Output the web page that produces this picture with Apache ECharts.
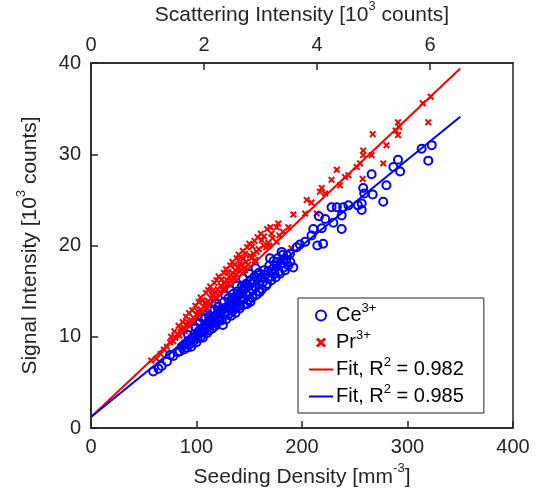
<!DOCTYPE html>
<html><head><meta charset="utf-8">
<script src="https://cdn.jsdelivr.net/npm/echarts@6/dist/echarts.min.js"></script>
<style>html,body{margin:0;padding:0;background:#fff}#c{width:542px;height:500px}</style>
</head><body><div id="c"></div>
<script>
// Seeding density [mm^-3], signal intensity [10^3 counts]
const ceData = [
[59,6.2],[64,6.5],[67,6.8],[72,7.3],[75,8.0],[78,7.9],[82,8.3],[84,8.4],[86,8.9],[88,9.1],[90,9.3],[91,8.8],[93,9.6],[94,9.2],[96,9.9],[97,9.5],[98,10.3],[100,10.1],[101,9.8],[102,10.6],[103,10.4],[104,10.0],[105,10.8],[106,11.0],[107,10.5],[108,11.3],[109,10.9],[110,11.5],[111,11.1],[112,10.7],[113,11.8],[114,11.4],[115,12.0],[116,11.6],[117,12.2],[118,11.2],[119,12.4],[120,12.0],[121,11.7],[122,12.6],[123,12.2],[124,12.9],[125,11.3],[126,12.5],[127,13.1],[128,12.7],[129,13.3],[130,12.4],[131,13.5],[132,13.0],[133,13.8],[134,12.8],[135,13.6],[136,14.1],[137,13.2],[138,14.3],[139,13.7],[140,14.5],[141,13.4],[142,14.8],[143,14.0],[144,15.0],[145,14.2],[146,15.3],[147,14.6],[148,13.6],[149,15.5],[150,14.9],[151,13.8],[152,15.8],[153,15.2],[155,16.0],[156,15.4],[158,16.3],[159,15.0],[160,14.9],[161,16.5],[163,16.0],[165,16.8],[166,15.6],[168,17.2],[170,16.6],[172,17.4],[174,16.9],[176,17.8],[178,17.1],[180,18.0],[183,17.6],[185,18.4],[187,17.8],
[88,8.6],[92,10.2],[95,8.9],[99,11.0],[100,9.4],[103,11.5],[106,9.9],[108,12.0],[110,10.4],[112,12.3],[115,10.9],[117,13.0],[119,11.5],[121,13.3],[124,11.8],[126,13.8],[128,11.9],[130,14.2],[133,12.3],[135,14.7],[137,12.6],[139,15.0],[141,13.1],[143,15.5],[145,13.5],[147,15.8],[149,14.0],[151,16.2],[153,14.3],[155,16.6],[157,14.6],[159,17.0],[162,15.2],[164,17.3],[167,15.8],[169,17.8],[171,16.2],[173,18.3],[175,16.5],[177,18.6],[179,16.9],[182,19.0],[184,17.3],[186,18.9],[189,18.2],[127,14.6],[132,15.1],[138,15.6],[144,16.4],[118,13.6],[150,16.9],[156,17.5],[113,12.9],[105,12.1],
[169.7,18.6],[176,18.2],[180.7,19.3],[188.6,19.1],[191.8,17.6],[195,19.8],[198,20.1],[203,20.4],[209,21.1],[210.7,21.8],[214.5,20.0],[220,20.2],[216,23.2],[218.7,21.9],[222,22.9],[228,24.2],[229.7,22.5],[233,24.2],[237.6,23.3],[237.6,21.8],[239,24.2],[244,24.4],[253,24.4],[256.6,24.6],[256.6,23.9],[258,26.3],[259,25.7],[266,27.8],[267,25.6],[277,24.8],[280,26.6],[286.6,28.6],[291,29.4],[293,28.1],[313.4,30.6],[319.7,29.3],[323,31.0]
];
const prData = [
[57,7.4],[62,7.6],[66,8.1],[69,8.6],[72,8.9],[75,9.4],[78,9.5],[80,9.9],[82,10.3],[84,10.1],[86,10.7],[88,11.0],[89,10.6],[91,11.3],[92,11.6],[94,11.2],[95,11.8],[97,12.1],[98,11.7],[100,12.4],[101,12.8],[103,12.3],[104,13.0],[105,12.7],[107,13.3],[108,13.7],[110,13.1],[111,13.9],[112,13.5],[114,14.2],[115,14.6],[116,13.9],[118,14.8],[119,14.3],[120,15.2],[122,14.9],[123,15.6],[125,15.1],[126,15.9],[127,15.4],[129,16.2],[130,15.8],[131,16.6],[133,16.1],[134,17.0],[135,16.5],[137,17.3],[138,16.8],[140,17.6],[141,17.2],[143,17.9],[145,17.5],[147,18.2],[149,17.9],[152,18.6],[154,19.1],[157,19.3],[159,19.6],[166,19.8],[168,20.3],[172,20.8],[182,21.5],
[76,10.0],[79,10.6],[83,11.2],[85,10.9],[87,11.6],[90,12.2],[93,12.6],[96,12.9],[99,13.4],[102,13.8],[104,14.3],[106,14.0],[109,14.8],[111,15.1],[113,15.5],[115,15.0],[117,15.9],[119,16.2],[121,16.6],[124,16.3],[126,17.0],[128,17.4],[130,17.1],[132,17.8],[134,18.2],[136,17.9],[138,18.6],[140,19.0],[142,18.7],[144,19.4],[146,19.1],[148,19.8],[150,20.2],[153,19.9],[155,20.5],[158,20.9],[161,21.3],[164,21.0],[167,21.8],[170,22.0],[96,11.5],[106,12.6],[116,14.0],[126,15.2],[136,16.4],[146,17.3],[156,18.3],
[141,18.0],[144.4,18.6],[150.7,18.9],[155.5,18.4],[161.8,20.6],[163.5,20.0],[169,20.0],[171,21.3],[176,22.0],[176,20.4],[177.5,22.4],[178.5,21.1],[187,22.0],[190,19.7],[191.8,23.4],[203,23.5],[204.5,25.0],[209,24.7],[214,23.5],[217,25.9],[218.7,26.3],[222,25.7],[228,27.2],[233,28.3],[236,26.6],[240.8,27.5],[244,27.7],[251.8,28.6],[255,29.0],[257.5,27.3],[258,30.4],[258,29.9],[266,29.9],[267,32.2],[277,29.0],[280,31.0],[288.8,32.6],[291,33.5],[291,32.1],[292,33.0],[314.4,35.6],[319.7,33.5],[322,36.3]
];
const fitPr = [[0,1.2],[350,39.4]];
const fitCe = [[0,1.2],[350,34.1]];
const bottomTicks = [0,100,200,300,400];
const topTicks = [0,2,4,6];
const leftTicks = [0,10,20,30,40];

const FONT = '"Liberation Sans", Arial, Helvetica, sans-serif';
const TXT = '#262626';
const sup = {fontSize: 13, verticalAlign: 'top', lineHeight: 13, fontFamily: FONT, color: TXT};
const chart = echarts.init(document.getElementById('c'), null, {renderer:'canvas'});
const xPath = 'path://M0,2L2,0L5,3L8,0L10,2L7,5L10,8L8,10L5,7L2,10L0,8L3,5Z';
const linePath = 'path://M0,0L0.01,0L0,0.01Z M0,4L24,4L24,6L0,6Z M24,10L23.99,10L24,9.99Z';
chart.setOption({
  animation:false,
  backgroundColor:'#fff',
  textStyle:{fontFamily:FONT},
  grid:{left:91,right:29,top:63,bottom:72,show:true,borderColor:TXT,borderWidth:1.5,containLabel:false,outerBoundsMode:'none'},
  xAxis:[{
    type:'value',min:0,max:400,interval:100,position:'bottom',
    name:'Seeding Density [mm{sup|-3}]',nameLocation:'middle',nameGap:29,
    nameTextStyle:{fontSize:21,lineHeight:30,color:TXT,fontFamily:FONT,rich:{sup}},
    axisLine:{show:true,onZero:false,lineStyle:{color:TXT,width:1.5}},
    axisTick:{show:true,inside:true,length:7,lineStyle:{color:TXT,width:1.5}},
    axisLabel:{fontSize:20,color:TXT,margin:9,fontFamily:FONT,formatter:v=>bottomTicks.includes(v)?String(v):''},
    splitLine:{show:false}
  },{
    type:'value',min:0,max:7.47,interval:2,position:'top',
    name:'Scattering Intensity [10{sup|3} counts]',nameLocation:'middle',nameGap:30,
    nameTextStyle:{fontSize:21,lineHeight:30,color:TXT,fontFamily:FONT,rich:{sup}},
    axisLine:{show:true,onZero:false,lineStyle:{color:TXT,width:1.5}},
    axisTick:{show:true,inside:true,length:7,lineStyle:{color:TXT,width:1.5}},
    axisLabel:{fontSize:20,color:TXT,margin:8,fontFamily:FONT,showMaxLabel:false,formatter:v=>topTicks.includes(v)?String(v):''},
    splitLine:{show:false}
  }],
  yAxis:[{
    type:'value',min:0,max:40,interval:10,
    name:'Signal Intensity [10{sup|3} counts]',nameLocation:'middle',nameGap:46,nameRotate:90,
    nameTextStyle:{fontSize:21,lineHeight:30,color:TXT,fontFamily:FONT,rich:{sup}},
    axisLine:{show:true,onZero:false,lineStyle:{color:TXT,width:1.5}},
    axisTick:{show:true,inside:true,length:7,lineStyle:{color:TXT,width:1.5}},
    axisLabel:{fontSize:20,color:TXT,margin:10,fontFamily:FONT,formatter:v=>leftTicks.includes(v)?String(v):''},
    splitLine:{show:false}
  }],
  legend:{
    orient:'vertical',left:298,top:298,width:195,
    padding:[4,20,3,11],itemGap:0,itemWidth:24,itemHeight:10,
    backgroundColor:'#fff',borderColor:TXT,borderWidth:1,
    data:[{name:'Ce'},{name:'Pr'},{name:'FitPr',icon:linePath},{name:'FitCe',icon:linePath}],
    textStyle:{fontSize:20,lineHeight:27,color:'#000',fontFamily:FONT,padding:[0,0,0,-2],
      rich:{sup:{fontSize:13,lineHeight:13,verticalAlign:'top',fontFamily:FONT,color:'#000'}}},
    formatter:n=>({Ce:'Ce{sup|3+}',Pr:'Pr{sup|3+}',FitPr:'Fit, R{sup|2} = 0.982',FitCe:'Fit, R{sup|2} = 0.985'})[n]
  },
  series:[
    {name:'Pr',type:'scatter',data:prData,symbol:xPath,symbolSize:7,
      itemStyle:{color:'#ff0000',opacity:1},z:2},
    {name:'Ce',type:'scatter',data:ceData,symbol:'circle',symbolSize:8,
      itemStyle:{color:'rgba(0,0,0,0)',borderColor:'#0000ff',borderWidth:2,opacity:1},z:3},
    {name:'FitPr',type:'line',data:fitPr,symbol:'none',lineStyle:{color:'#ff0000',width:2},itemStyle:{color:'#ff0000'},z:4},
    {name:'FitCe',type:'line',data:fitCe,symbol:'none',lineStyle:{color:'#0000ff',width:2},itemStyle:{color:'#0000ff'},z:4}
  ]
});
</script></body></html>
